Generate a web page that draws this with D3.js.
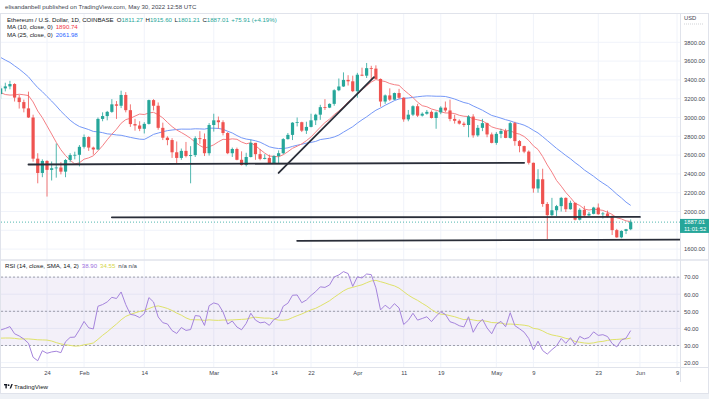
<!DOCTYPE html>
<html>
<head>
<meta charset="utf-8">
<script src="https://cdn.jsdelivr.net/npm/d3@7/dist/d3.min.js"></script>
<style>
body { margin: 0; background: #fff; }
svg { display: block; font-family: "Liberation Sans", Arial, sans-serif; }
</style>
</head>
<body>
<script>
// ETH/USD daily candles, 14 Jan 2022 .. 30 May 2022 (one value per day)
const firstDay = "2022-01-14";
const open = [3249,3310,3331,3356,3212,3164,3097,3000,2562,2410,2538,2443,2460,2468,2424,2548,2600,2603,
  2688,2792,2680,2660,2985,3015,3060,3140,3125,3240,3078,2930,2915,2880,2932,3185,3125,2890,2785,2760,2630,2570,2645,2590,2600,2780,2770,2620,
  2920,2970,2950,2835,2620,2665,2550,2495,2580,2730,2610,2560,2570,2515,2590,2620,2770,2815,2945,2950,2860,2900,2970,3030,3110,3105,3145,3290,3330,3400,3385,
  3280,3455,3445,3525,3520,3410,3170,3235,3190,3260,3210,2980,3030,3120,3020,3040,3060,2995,3055,3105,3075,2985,2965,2935,2920,3010,2810,2890,2940,2820,
  2730,2826,2857,2783,2940,2749,2696,2637,2518,2245,2343,2080,1961,2013,2057,2145,2024,2092,1913,2018,1958,1975,2042,1971,1979,1944,1802,1725,1793,1811.27];
const high = [3339,3370,3390,3365,3240,3190,3275,3030,2620,2555,2545,2532,2723,2525,2558,2620,2636,2707,
  2819,2800,2690,3000,3055,3070,3195,3175,3285,3270,3140,2986,2960,2950,3190,3195,3160,2945,2800,2780,2745,2670,2740,2695,2800,2855,2830,2940,
  3040,3010,2970,2845,2680,2680,2640,2625,2765,2730,2665,2610,2605,2600,2650,2780,2835,2950,3000,2955,2955,3040,3040,3135,3195,3150,3300,3415,3480,3450,3445,
  3475,3530,3580,3550,3555,3415,3245,3310,3265,3305,3215,3080,3130,3145,3055,3080,3075,3065,3120,3170,3190,3030,2980,2955,3025,3035,2920,2985,2945,2840,
  2845,2880,2880,2955,2955,2760,2700,2650,2520,2450,2455,2100,2145,2070,2155,2150,2115,2095,2035,2060,1995,2050,2085,1995,2010,1960,1815,1800,1815,1915.60];
const low = [3200,3278,3300,3170,3095,3055,2995,2530,2300,2365,2159,2330,2360,2395,2365,2525,2555,2480,
  2670,2645,2605,2655,2960,2970,3050,2985,3100,3055,2900,2860,2855,2830,2925,3075,2870,2760,2705,2570,2515,2550,2575,2300,2580,2720,2590,2595,
  2850,2880,2810,2610,2580,2545,2490,2480,2575,2550,2545,2555,2505,2505,2515,2610,2765,2760,2905,2845,2825,2895,2920,2975,3080,3100,3125,3280,3325,3340,3270,
  3210,3440,3420,3405,3410,3115,3145,3175,3185,3200,2955,2960,3015,3005,3010,3030,2990,2880,3035,3055,2960,2935,2925,2900,2790,2785,2795,2855,2790,2725,
  2710,2780,2780,2775,2700,2630,2620,2500,2200,2200,2050,1704,1950,1950,2000,1995,2020,1905,1905,1945,1950,1970,1965,1925,1935,1750,1720,1715,1760,1801.21];
const close = [3310,3331,3356,3212,3164,3097,3000,2562,2410,2538,2443,2460,2468,2424,2548,2600,2603,2688,
  2792,2680,2660,2985,3015,3060,3140,3125,3240,3078,2930,2915,2880,2932,3185,3125,2890,2785,2760,2630,2570,2645,2590,2600,2780,2770,2620,2920,
  2970,2950,2835,2620,2665,2550,2495,2580,2730,2610,2560,2570,2515,2590,2620,2770,2815,2945,2950,2860,2900,2970,3030,3110,3105,3145,3290,3330,3400,3385,3280,
  3455,3445,3525,3520,3410,3170,3235,3190,3260,3210,2980,3030,3120,3020,3040,3060,2995,3055,3105,3075,2985,2965,2935,2920,3010,2810,2890,2940,2820,2730,
  2826,2857,2783,2940,2749,2696,2637,2518,2245,2343,2080,1961,2013,2057,2145,2024,2092,1913,2018,1958,1975,2042,1971,1979,1944,1802,1725,1793,1811.27,1887.01];
// closes of 1 Dec 2021 .. 13 Jan 2022, only used to start the MA / RSI lines
const earlierCloses = [4587,4512,4225,4118,4197,4345,4310,4433,4109,3903,4085,4132,3782,3862,4019,3964,3878,3960,3924,3942,
  4018,3983,4110,4044,4096,4065,4035,3798,3630,3712,3676,3766,3829,3762,3793,3538,3413,3195,3091,3155,3085,3239,3374,3249];

const priceTicks = [1600,2000,2200,2400,2600,2800,3000,3200,3400,3600,3800];
const rsiTicks = [20,30,40,50,60,70];
const rsiBands = [70,50,30];
const timeTicks = ["2022-01-24","2022-02-01","2022-02-14","2022-03-01","2022-03-14","2022-03-22","2022-04-01",
  "2022-04-11","2022-04-19","2022-05-01","2022-05-09","2022-05-23","2022-06-01","2022-06-09"];
// hand drawn lines: [date, price] -> [date, price]
const drawnLines = [
  [["2022-01-20",2500],["2022-05-07",2518]],
  [["2022-02-07",1938],["2022-06-01",1942]],
  [["2022-03-19",1688],["2022-06-10",1700]],
  [["2022-03-15",2410],["2022-04-04T14:00",3430]]
];
const lastPrice = 1887.01;
const countdown = "11:01:52";
const header = "elisandanbell published on TradingView.com, May 30, 2022 12:58 UTC";
const ohlcLegend = [["O","1811.27"],["H","1915.60"],["L","1801.21"],["C","1887.01"]];
const changeLegend = "+75.91 (+4.19%)";
const maLegend = [["MA (10, close, 0)","1890.74"],["MA (25, close, 0)","2061.98"]];
const rsiLegend = ["RSI (14, close, SMA, 14, 2)","38.90","34.55","n/a n/a"];

const W = 709, H = 399;
const green = "#26a69a", red = "#ef5350";
const gridC = "#f0f3fa", textC = "#434651";
const fs = 6.1;

const svg = d3.select("body").append("svg").attr("width", W).attr("height", H);
svg.append("rect").attr("width", W).attr("height", H).attr("fill", "#fff");

const x = d3.scaleUtc()
  .domain([new Date("2022-01-24"), new Date("2022-06-09")])
  .range([47, 677]);
const y = d3.scaleLinear().domain([1600, 3800]).range([249.1, 42.3]);
const yR = d3.scaleLinear().domain([20, 70]).range([362.6, 277.1]);

const day0 = new Date(firstDay);
const bars = close.map((c, i) => ({date: d3.utcDay.offset(day0, i), o: open[i], h: high[i], l: low[i], c: c}));

// indicators
const allClose = earlierCloses.concat(close);
const off = earlierCloses.length;
function sma(src, n, i) {
  if (i < n - 1) return null;
  let s = 0;
  for (let k = i - n + 1; k <= i; k++) { if (src[k] == null) return null; s += src[k]; }
  return s / n;
}
const rsiAll = allClose.map(() => null);
let au = 0, ad = 0;
for (let i = 1; i < allClose.length; i++) {
  const ch = allClose[i] - allClose[i - 1];
  const u = Math.max(ch, 0), dn = Math.max(-ch, 0);
  if (i <= 14) { au += u / 14; ad += dn / 14; if (i < 14) continue; }
  else { au = (au * 13 + u) / 14; ad = (ad * 13 + dn) / 14; }
  rsiAll[i] = ad === 0 ? 100 : 100 - 100 / (1 + au / ad);
}
bars.forEach((b, i) => {
  b.ma10 = sma(allClose, 10, i + off);
  b.ma25 = sma(allClose, 25, i + off);
  b.rsi = rsiAll[i + off];
  b.rsiMa = sma(rsiAll, 14, i + off);
});

// frame
svg.append("text").attr("x", 5).attr("y", 9.2).attr("font-size", fs).attr("fill", textC).text(header);
svg.append("rect").attr("x", 0.5).attr("y", 13.5).attr("width", W - 1).attr("height", 380)
  .attr("fill", "none").attr("stroke", "#e0e3eb");

const defs = svg.append("defs");
defs.append("clipPath").attr("id", "cp").append("rect").attr("x", 1).attr("y", 14).attr("width", 679).attr("height", 245);
defs.append("clipPath").attr("id", "cr").append("rect").attr("x", 1).attr("y", 261).attr("width", 679).attr("height", 106);

// grids
const tDates = timeTicks.map(d => new Date(d));
const gridP = svg.append("g");
gridP.selectAll(".vg").data(tDates).enter().append("line")
  .attr("x1", d => x(d)).attr("x2", d => x(d)).attr("y1", 14).attr("y2", 367)
  .attr("stroke", gridC);
gridP.selectAll(".hg").data(d3.range(1600, 3801, 200)).enter().append("line")
  .attr("x1", 1).attr("x2", 680).attr("y1", d => y(d)).attr("y2", d => y(d))
  .attr("stroke", gridC);
gridP.selectAll(".rg").data(rsiTicks).enter().append("line")
  .attr("x1", 1).attr("x2", 680).attr("y1", d => yR(d)).attr("y2", d => yR(d))
  .attr("stroke", gridC);

// price pane
const pane = svg.append("g").attr("clip-path", "url(#cp)");
const maLine = key => d3.line().defined(d => d[key] != null).x(d => x(d.date)).y(d => y(d[key]));
pane.append("path").datum(bars).attr("d", maLine("ma25")).attr("fill", "none").attr("stroke", "#7598f7").attr("stroke-width", 1);
pane.append("path").datum(bars).attr("d", maLine("ma10")).attr("fill", "none").attr("stroke", "#f58085").attr("stroke-width", 1);

const candle = pane.selectAll(".candle").data(bars).enter().append("g");
candle.append("line")
  .attr("x1", d => x(d.date)).attr("x2", d => x(d.date))
  .attr("y1", d => y(d.h)).attr("y2", d => y(d.l))
  .attr("stroke", d => d.c >= d.o ? green : red).attr("stroke-width", 0.8);
candle.append("rect")
  .attr("x", d => x(d.date) - 1.6).attr("width", 3.2)
  .attr("y", d => y(Math.max(d.o, d.c)))
  .attr("height", d => Math.max(0.8, Math.abs(y(d.o) - y(d.c))))
  .attr("fill", d => d.c >= d.o ? green : red);

pane.append("line").attr("x1", 1).attr("x2", 680).attr("y1", y(lastPrice)).attr("y2", y(lastPrice))
  .attr("stroke", green).attr("stroke-dasharray", "1,2").attr("stroke-width", 0.8);

pane.selectAll(".drawn").data(drawnLines).enter().append("line")
  .attr("x1", d => x(new Date(d[0][0]))).attr("y1", d => y(d[0][1]))
  .attr("x2", d => x(new Date(d[1][0]))).attr("y2", d => y(d[1][1]))
  .attr("stroke", "#2a2e39").attr("stroke-width", 1.8).attr("stroke-linecap", "round");

// legend in price pane
const lg = svg.append("g").attr("font-size", fs);
const row1 = lg.append("text").attr("x", 7).attr("y", 21.5).attr("fill", "#131722");
row1.append("tspan").text("Ethereum / U.S. Dollar, 1D, COINBASE");
ohlcLegend.forEach((p, i) => {
  row1.append("tspan").attr("dx", i === 0 ? 3 : 2.5).text(p[0]);
  row1.append("tspan").attr("fill", green).text(p[1]);
});
row1.append("tspan").attr("dx", 2.5).attr("fill", green).text(changeLegend);
const maColors = ["#f23645", "#2962ff"];
maLegend.forEach((m, i) => {
  const t = lg.append("text").attr("x", 7).attr("y", 29.3 + i * 7.7).attr("fill", "#131722");
  t.append("tspan").text(m[0]);
  t.append("tspan").attr("dx", 3).attr("fill", maColors[i]).text(m[1]);
});

// RSI pane
svg.append("line").attr("x1", 1).attr("x2", 708).attr("y1", 260).attr("y2", 260).attr("stroke", "#e0e3eb").attr("stroke-width", 1.5);
const rp = svg.append("g").attr("clip-path", "url(#cr)");
rp.append("rect").attr("x", 1).attr("width", 679).attr("y", yR(70)).attr("height", yR(30) - yR(70))
  .attr("fill", "#7e57c2").attr("fill-opacity", 0.09);
rp.selectAll(".band").data(rsiBands).enter().append("line")
  .attr("x1", 1).attr("x2", 680).attr("y1", d => yR(d)).attr("y2", d => yR(d))
  .attr("stroke", "#8b8d98").attr("stroke-dasharray", "2,2").attr("stroke-width", 0.8);
const rl = key => d3.line().defined(d => d[key] != null).x(d => x(d.date)).y(d => yR(d[key]));
rp.append("path").datum(bars).attr("d", rl("rsiMa")).attr("fill", "none").attr("stroke", "#dfe26a").attr("stroke-width", 1);
rp.append("path").datum(bars).attr("d", rl("rsi")).attr("fill", "none").attr("stroke", "#a584dc").attr("stroke-width", 1);

const rt = svg.append("text").attr("x", 5).attr("y", 268).attr("font-size", fs).attr("fill", "#131722");
rt.append("tspan").text(rsiLegend[0]);
rt.append("tspan").attr("dx", 3).attr("fill", "#9c6fe0").text(rsiLegend[1]);
rt.append("tspan").attr("dx", 3).attr("fill", "#d4d64a").text(rsiLegend[2]);
rt.append("tspan").attr("dx", 3).attr("fill", textC).text(rsiLegend[3]);

// axes
svg.append("line").attr("x1", 680.5).attr("x2", 680.5).attr("y1", 14).attr("y2", 382).attr("stroke", "#e0e3eb");
svg.append("line").attr("x1", 1).attr("x2", 708).attr("y1", 367.5).attr("y2", 367.5).attr("stroke", "#e0e3eb");

const fmt = d3.format(".2f");
const ay = svg.append("g").attr("transform", "translate(683,0)")
  .call(d3.axisRight(y).tickValues(priceTicks).tickFormat(fmt).tickSize(0).tickPadding(1));
const ar = svg.append("g").attr("transform", "translate(683,0)")
  .call(d3.axisRight(yR).tickValues(rsiTicks).tickFormat(fmt).tickSize(0).tickPadding(1));
const monthName = d3.utcFormat("%b");
const ax = svg.append("g").attr("transform", "translate(0,371)")
  .call(d3.axisBottom(x).tickValues(tDates)
    .tickFormat(d => d.getUTCDate() === 1 ? monthName(d) : String(d.getUTCDate()))
    .tickSize(0).tickPadding(0));
[ay, ar, ax].forEach(g => {
  g.select(".domain").remove();
  g.selectAll("text").attr("font-size", 5.8).attr("fill", textC).attr("font-family", "Liberation Sans, Arial, sans-serif");
});
svg.append("text").attr("x", 684).attr("y", 20).attr("font-size", 5.8).attr("fill", textC).text("USD");
svg.append("line").attr("x1", 684).attr("x2", 703).attr("y1", 24).attr("y2", 24)
  .attr("stroke", "#b2b5be").attr("stroke-dasharray", "1,1").attr("stroke-width", 0.6);

// last price label
svg.append("rect").attr("x", 680).attr("y", y(lastPrice) - 3.2).attr("width", 29).attr("height", 14).attr("fill", green);
svg.append("text").attr("x", 684).attr("y", y(lastPrice) + 2).attr("font-size", 5.8).attr("fill", "#fff").text(fmt(lastPrice));
svg.append("text").attr("x", 684).attr("y", y(lastPrice) + 8.8).attr("font-size", 5.8).attr("fill", "#fff").text(countdown);

// tradingview mark
const logo = svg.append("g").attr("transform", "translate(4,384)").attr("fill", "#131722");
logo.append("rect").attr("x", 0).attr("y", 0).attr("width", 3.2).attr("height", 1.4);
logo.append("rect").attr("x", 1.4).attr("y", 0).attr("width", 1.4).attr("height", 4.4);
logo.append("circle").attr("cx", 4.6).attr("cy", 1.2).attr("r", 0.9);
logo.append("path").attr("d", "M5.6,4.4 L7.4,0 L8.8,0 L7,4.4 Z");
svg.append("text").attr("x", 14).attr("y", 388.5).attr("font-size", 6.2).attr("fill", "#131722").text("TradingView");

svg.append("rect").attr("x", 0).attr("y", 394).attr("width", W).attr("height", 5).attr("fill", "#eef1f6");
</script>
</body>
</html>
